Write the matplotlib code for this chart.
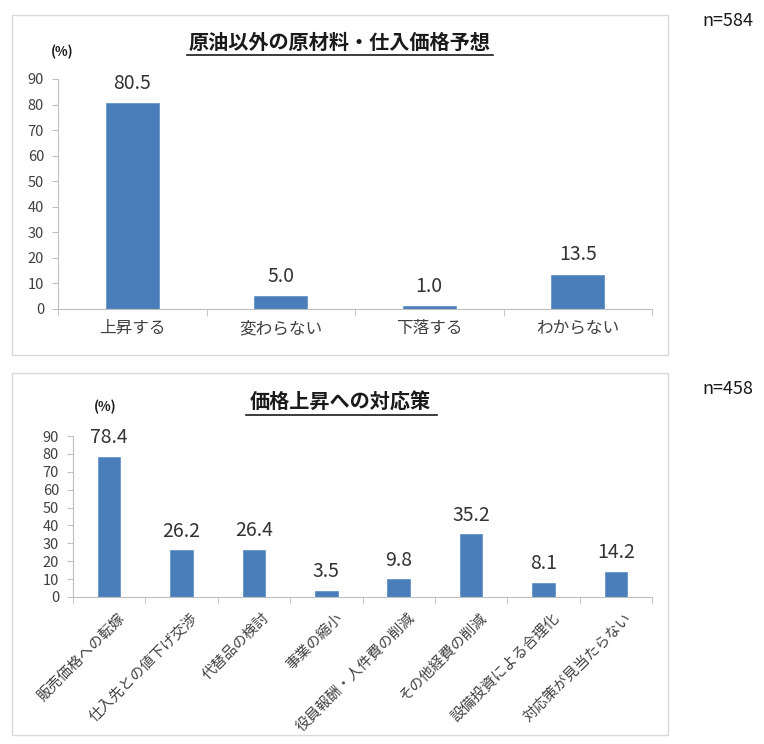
import matplotlib
matplotlib.use("Agg")
import matplotlib.pyplot as plt
from matplotlib.patches import Rectangle
import numpy as np

plt.rcParams['font.family'] = ['Noto Sans CJK JP', 'DejaVu Sans']

title1 = "原油以外の原材料・仕入価格予想"
cats1 = ["上昇する", "変わらない", "下落する", "わからない"]
vals1 = [80.5, 5.0, 1.0, 13.5]
n1 = "n=584"

title2 = "価格上昇への対応策"
cats2 = ["販売価格への転嫁", "仕入先との値下げ交渉", "代替品の検討", "事業の縮小",
         "役員報酬・人件費の削減", "その他経費の削減", "設備投資による合理化", "対応策が見当たらない"]
vals2 = [78.4, 26.2, 26.4, 3.5, 9.8, 35.2, 8.1, 14.2]
n2 = "n=458"

yticks = [0, 10, 20, 30, 40, 50, 60, 70, 80, 90]

W, H = 764, 744
fig = plt.figure(figsize=(W/100, H/100), dpi=100)

bar_color = "#4a7ebb"
spine_color = "#bfbfbf"
tick_color = "#404040"

def fx(x): return x / W
def fy(y): return 1 - y / H

# panel frames
for (x0, y0, x1, y1) in [(12, 15, 668, 355), (12, 373, 668, 735)]:
    fig.patches.append(Rectangle((fx(x0), fy(y1)), fx(x1) - fx(x0), fy(y0) - fy(y1),
                                 transform=fig.transFigure, fill=False,
                                 edgecolor="#d9d9d9", linewidth=1.0))

def style(ax, n):
    for s in ["top", "right"]:
        ax.spines[s].set_visible(False)
    for s in ["left", "bottom"]:
        ax.spines[s].set_color(spine_color)
        ax.spines[s].set_linewidth(0.8)
    ax.set_ylim(0, 90)
    ax.set_yticks(yticks)
    ax.set_xlim(-0.5, n - 0.5)
    ax.tick_params(axis='y', length=4, color=spine_color, labelcolor=tick_color, labelsize=10.5, pad=6)
    ax.set_xticks(np.arange(-0.5, n, 1.0), minor=True)
    ax.tick_params(axis='x', which='minor', length=5, color=spine_color)
    ax.tick_params(axis='x', which='major', length=0, labelcolor=tick_color)

# top chart
ax1 = fig.add_axes([fx(58), fy(309), fx(652) - fx(58), fy(79) - fy(309)])
x1 = np.arange(len(cats1))
ax1.bar(x1, vals1, width=0.36, color=bar_color, edgecolor="#5b8bc6", linewidth=0.5)
style(ax1, len(cats1))
ax1.set_xticks(x1)
ax1.set_xticklabels(cats1, fontsize=12)
ax1.tick_params(axis='x', which='major', pad=8)
for xi, v in zip(x1, vals1):
    ax1.annotate(f"{v:.1f}", (xi, v), xytext=(0, 7), textcoords="offset points",
                 ha="center", va="bottom", fontsize=14, color="#333333")
fig.text(fx(340), fy(42), title1, ha="center", va="center", fontsize=14.5,
         fontweight="bold", color="#1a1a1a")
fig.add_artist(plt.Line2D([fx(187), fx(493)], [fy(55), fy(55)], transform=fig.transFigure,
                          color="#1a1a1a", linewidth=1.2))
fig.text(fx(62), fy(52), "(%)", ha="center", va="center", fontsize=9.5,
         fontweight="bold", color="#1a1a1a")
fig.text(fx(728), fy(21), n1, ha="center", va="center", fontsize=13, color="#1a1a1a")

# bottom chart
ax2 = fig.add_axes([fx(73), fy(597), fx(652) - fx(73), fy(436) - fy(597)])
x2 = np.arange(len(cats2))
ax2.bar(x2, vals2, width=0.31, color=bar_color, edgecolor="#5b8bc6", linewidth=0.5)
style(ax2, len(cats2))
ax2.set_xticks(x2 + 0.12)
ax2.set_xticklabels(cats2, fontsize=10.5, rotation=45, ha="right", rotation_mode="anchor")
ax2.tick_params(axis='x', which='major', pad=10)
for xi, v in zip(x2, vals2):
    ax2.annotate(f"{v:.1f}", (xi, v), xytext=(0, 6), textcoords="offset points",
                 ha="center", va="bottom", fontsize=14, color="#333333")
fig.text(fx(340), fy(402), title2, ha="center", va="center", fontsize=14.5,
         fontweight="bold", color="#1a1a1a")
fig.add_artist(plt.Line2D([fx(246), fx(437)], [fy(415), fy(415)], transform=fig.transFigure,
                          color="#1a1a1a", linewidth=1.2))
fig.text(fx(105), fy(407), "(%)", ha="center", va="center", fontsize=9.5,
         fontweight="bold", color="#1a1a1a")
fig.text(fx(728), fy(389), n2, ha="center", va="center", fontsize=13, color="#1a1a1a")

fig.savefig("out.png", dpi=100, facecolor="white")
